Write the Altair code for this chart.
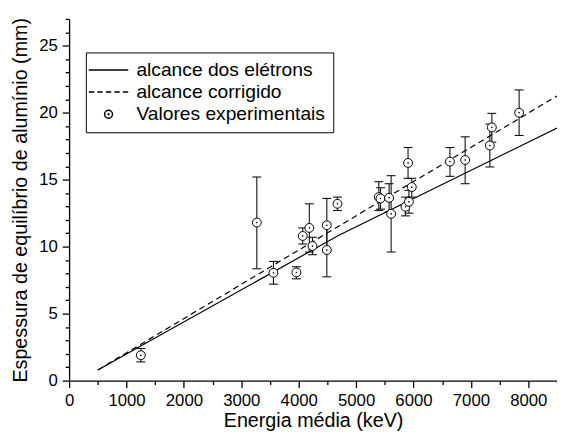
import altair as alt
import pandas as pd

FONT = "Liberation Sans"

# Experimental values (energy in keV, thickness in mm, error bar bounds)
energy = [1250, 3270, 3560, 3960, 4070, 4185, 4240, 4490, 4490, 4675, 5395, 5425,
          5575, 5610, 5860, 5905, 5920, 5970, 6635, 6900, 7330, 7365, 7840]
thickness = [1.9, 11.8, 8.05, 8.08, 10.8, 11.4, 10.05, 11.6, 9.75, 13.2, 13.7, 13.6,
             13.65, 12.45, 12.98, 16.25, 13.35, 14.45, 16.35, 16.47, 17.55, 18.9, 20.0]
err_low = [1.4, 8.35, 7.2, 7.6, 10.2, 9.6, 9.4, 9.6, 7.75, 12.7, 12.7, 12.8,
           12.6, 9.6, 12.3, 15.1, 12.5, 13.7, 15.25, 14.7, 15.95, 17.8, 18.3]
err_high = [2.4, 15.2, 8.9, 8.5, 11.4, 13.2, 10.7, 13.6, 11.75, 13.7, 14.85, 14.4,
            14.7, 15.3, 13.7, 17.4, 14.2, 15.1, 17.4, 18.2, 19.15, 19.95, 21.7]

# Electron range curve and corrected range
range_energy = [500, 4700, 8500]
range_thickness = [0.8, 10.85, 18.85]
corr_energy = [500, 8500]
corr_thickness = [0.8, 21.25]

series_names = ["alcance dos elétrons", "alcance corrigido", "Valores experimentais"]
symbol_paths = [
    "M-4,0H4",
    "M-4,0H-2.9M-2.275,0H-1.175M-0.55,0H0.55M1.175,0H2.275M2.9,0H4",
    "M-0.8,0A0.8,0.8,0,1,1,0.8,0A0.8,0.8,0,1,1,-0.8,0ZM-0.06,-0.06H0.06V0.06H-0.06Z",
]

exp_df = pd.DataFrame({"E": energy, "T": thickness, "lo": err_low, "hi": err_high,
                       "serie": series_names[2]})
range_df = pd.DataFrame({"E": range_energy, "T": range_thickness})
corr_df = pd.DataFrame({"E": corr_energy, "T": corr_thickness})

x_scale = alt.Scale(domain=[0, 8500], nice=False, zero=False)
y_scale = alt.Scale(domain=[0, 27], nice=False, zero=False)

x_axis = alt.Axis(
    title="Energia média (keV)",
    values=list(range(0, 8501, 500)),
    format="d",
    labelExpr="datum.value % 1000 === 0 ? datum.label : ''",
    tickSize={"condition": {"test": "datum.value % 1000 === 0", "value": 7}, "value": 4},
    labelOverlap=False, labelFlush=False, labelBound=False,
    labelPadding=5, titlePadding=3,
)
y_axis = alt.Axis(
    title="Espessura de equilíbrio de alumínio (mm)",
    values=list(range(0, 28)),
    labelExpr="datum.value % 5 === 0 ? datum.label : ''",
    tickSize={"condition": {"test": "datum.value % 5 === 0", "value": 7}, "value": 4},
    labelOverlap=False, labelFlush=False, labelBound=False,
    labelPadding=5, titlePadding=8,
)

X = alt.X("E:Q", scale=x_scale, axis=x_axis)
Y = alt.Y("T:Q", scale=y_scale, axis=y_axis)

line_range = alt.Chart(range_df).mark_line(color="black", strokeWidth=1.2).encode(x=X, y=Y)
line_corr = alt.Chart(corr_df).mark_line(color="black", strokeWidth=1.2,
                                         strokeDash=[6, 4]).encode(x=X, y=Y)

bars = alt.Chart(exp_df).mark_rule(color="#111", strokeWidth=1.1).encode(
    x=X, y=alt.Y("lo:Q", scale=y_scale, axis=y_axis), y2="hi:Q")
cap_lo = alt.Chart(exp_df).mark_tick(color="#111", orient="horizontal", size=9,
                                     thickness=1.1, opacity=1).encode(
    x=X, y=alt.Y("lo:Q", scale=y_scale, axis=y_axis))
cap_hi = alt.Chart(exp_df).mark_tick(color="#111", orient="horizontal", size=9,
                                     thickness=1.1, opacity=1).encode(
    x=X, y=alt.Y("hi:Q", scale=y_scale, axis=y_axis))

points = alt.Chart(exp_df).mark_point(
    filled=False, color="black", fill="white", strokeWidth=1, size=127, opacity=1,
).encode(
    x=X, y=Y,
    shape=alt.Shape(
        "serie:N",
        scale=alt.Scale(domain=series_names, range=symbol_paths),
        legend=alt.Legend(
            title=None,
            orient="none", legendX=17, legendY=34, direction="vertical",
            strokeColor="black", fillColor="white", padding=8, cornerRadius=0,
            symbolSize=100, symbolOffset=5.25, labelOffset=18.5,
            labelFontSize=19.5, labelFont=FONT, labelColor="black", rowPadding=1.5,
            labelLimit=0,
        ),
    ),
)

chart = alt.layer(line_range, line_corr, bars, cap_lo, cap_hi, points).properties(
    width=495, height=367,
    autosize=alt.AutoSizeParams(type="none"),
    padding={"left": 62, "top": 8, "right": 0, "bottom": 48},
).configure_view(stroke=None).configure_axis(
    grid=False, domainColor="black", domainWidth=1.3, tickColor="black", tickWidth=1.3,
    labelColor="black", titleColor="black", labelFont=FONT, titleFont=FONT,
    labelFontSize=17, titleFontSize=20, titleFontWeight="normal",
)

chart.save("out.html", embed_options={"renderer": "svg", "actions": False})
